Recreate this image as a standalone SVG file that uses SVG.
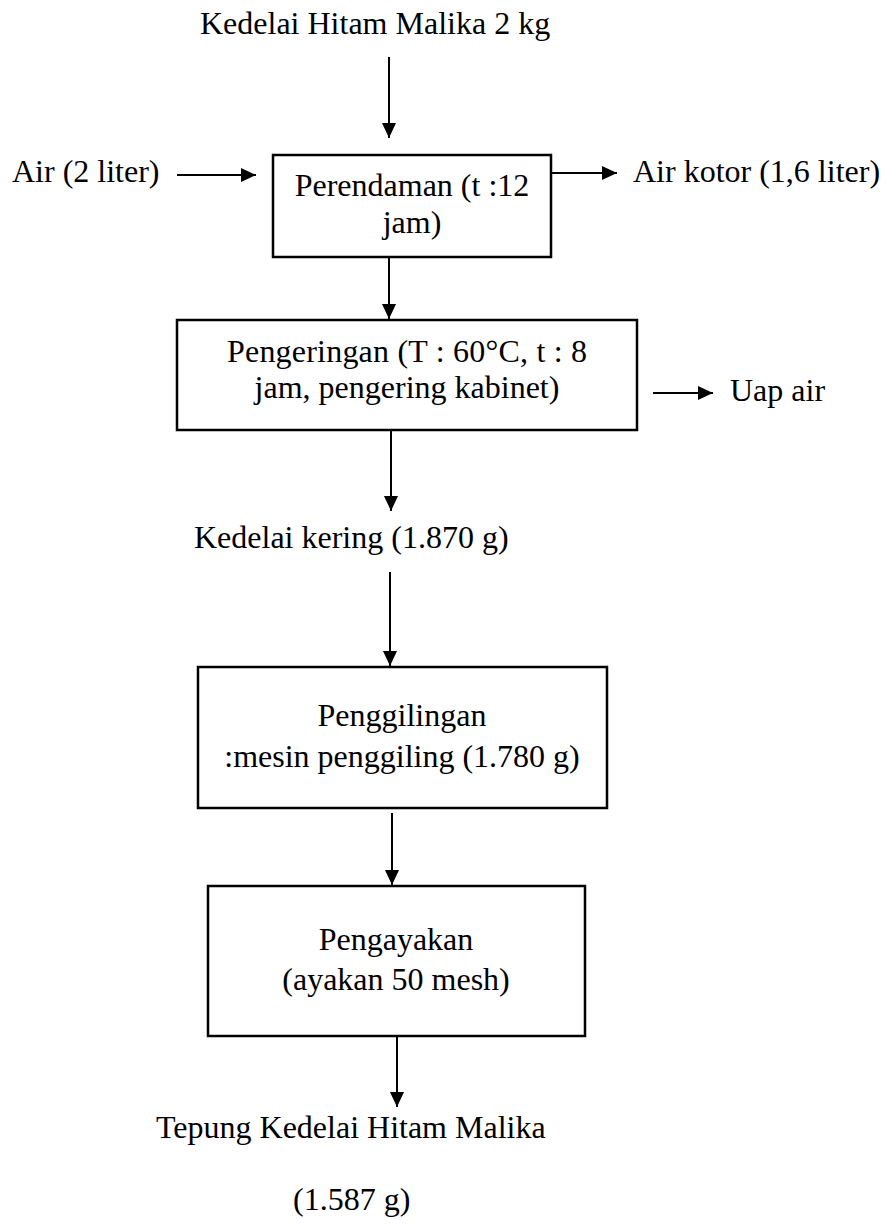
<svg xmlns="http://www.w3.org/2000/svg" width="886" height="1224" viewBox="0 0 886 1224">
<style>
text{font-family:"Liberation Serif","Times New Roman",serif;font-size:32px;fill:#000}
.c{text-anchor:middle}
.box{fill:#fff;stroke:#000;stroke-width:2.5}
.ln{stroke:#000;stroke-width:2;fill:none;marker-end:url(#ah)}
</style>
<defs>
<marker id="ah" viewBox="0 0 15 14" refX="15" refY="7" markerWidth="15" markerHeight="14" markerUnits="userSpaceOnUse" orient="auto">
<path d="M0,0 L15,7 L0,14 Z" fill="#000"/>
</marker>
</defs>
<rect width="886" height="1224" fill="#fff"/>
<g id="connectors">
<line class="ln" x1="389" y1="57" x2="389" y2="138"/>
<line class="ln" x1="177" y1="175" x2="256" y2="175"/>
<line class="ln" x1="551" y1="173" x2="617" y2="173"/>
<line class="ln" x1="389" y1="257" x2="389" y2="319"/>
<line class="ln" x1="653" y1="393" x2="713" y2="393"/>
<line class="ln" x1="391" y1="430" x2="391" y2="511"/>
<line class="ln" x1="390" y1="572" x2="390" y2="666"/>
<line class="ln" x1="392" y1="813" x2="392" y2="885"/>
<line class="ln" x1="397" y1="1036" x2="397" y2="1107"/>
</g>
<g id="input"><text x="200" y="34">Kedelai Hitam Malika 2 kg</text></g>
<g id="air-in"><text x="12" y="182">Air (2 liter)</text></g>
<g id="perendaman">
<rect class="box" x="273" y="155" width="278" height="102"/>
<text class="c" x="412" y="196">Perendaman (t :12</text>
<text class="c" x="412" y="233">jam)</text>
</g>
<g id="air-kotor"><text x="633" y="182">Air kotor (1,6 liter)</text></g>
<g id="pengeringan">
<rect class="box" x="177" y="320" width="460" height="110"/>
<text class="c" x="407" y="362" textLength="360">Pengeringan (T : 60°C, t : 8</text>
<text class="c" x="407" y="398">jam, pengering kabinet)</text>
</g>
<g id="uap-air"><text x="730" y="401">Uap air</text></g>
<g id="kedelai-kering"><text x="194" y="548">Kedelai kering (1.870 g)</text></g>
<g id="penggilingan">
<rect class="box" x="198" y="667" width="409" height="141"/>
<text class="c" x="402" y="726">Penggilingan</text>
<text class="c" x="402" y="767">:mesin penggiling (1.780 g)</text>
</g>
<g id="pengayakan">
<rect class="box" x="208" y="886" width="377" height="150"/>
<text class="c" x="396" y="950">Pengayakan</text>
<text class="c" x="396" y="990">(ayakan 50 mesh)</text>
</g>
<g id="output">
<text x="156" y="1138">Tepung Kedelai Hitam Malika</text>
<text x="293" y="1210">(1.587 g)</text>
</g>
</svg>
